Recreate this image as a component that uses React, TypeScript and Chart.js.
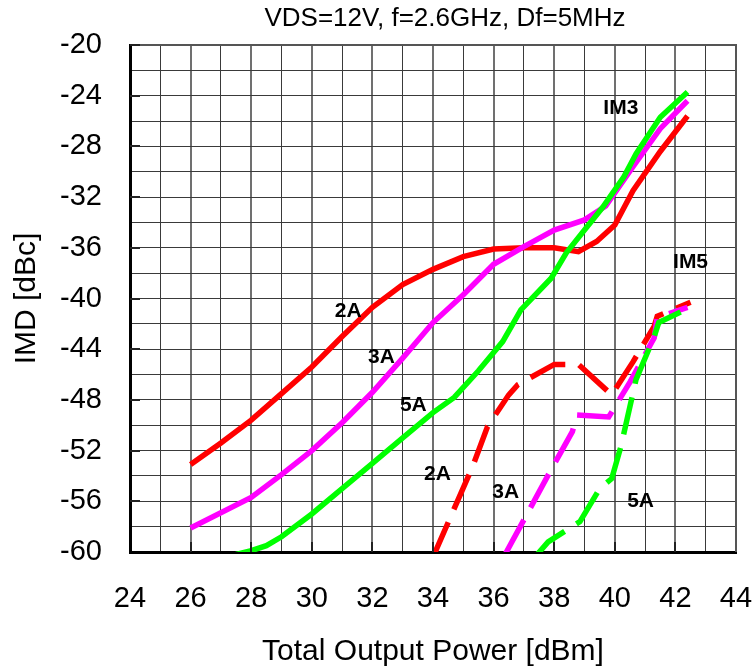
import React, { useEffect, useRef } from "react";
import { Chart, registerables } from "chart.js";

Chart.register(...registerables);

const FONT = "'Liberation Sans', Arial, sans-serif";

const chartTitle = "VDS=12V, f=2.6GHz, Df=5MHz";
const xAxisTitle = "Total Output Power [dBm]";
const yAxisTitle = "IMD [dBc]";

// IM3 (solid)
const red2A_IM3_x = [26, 27, 28, 29, 30, 31, 32, 33, 34, 35, 36, 37, 38, 38.8, 39.4, 40, 40.6, 41.5, 42.4];
const red2A_IM3_y = [-53.1, -51.4, -49.6, -47.5, -45.4, -43.0, -40.7, -38.9, -37.7, -36.7, -36.1, -36.0, -36.0, -36.3, -35.5, -34.2, -31.5, -28.4, -25.6];

const mag3A_IM3_x = [26, 28, 29, 30, 31, 32, 33, 34, 35, 36, 37, 38, 39, 39.7, 40.6, 41.5, 42.4];
const mag3A_IM3_y = [-58.1, -55.7, -53.9, -52.0, -49.8, -47.4, -44.7, -41.9, -39.7, -37.3, -35.9, -34.6, -33.8, -32.7, -29.6, -26.6, -24.4];

const grn5A_IM3_x = [27.5, 28, 28.5, 29, 30, 31, 32, 33, 34, 34.7, 35.5, 36.3, 36.9, 37.9, 38.4, 39.0, 39.6, 40.3, 40.7, 41.5, 42.4];
const grn5A_IM3_y = [-60.2, -59.9, -59.5, -58.8, -57.0, -55.0, -53.0, -51.0, -49.0, -47.8, -45.7, -43.4, -40.9, -38.4, -36.4, -34.6, -32.8, -30.4, -28.6, -25.7, -23.7];

// IM5 (dashed)
const red2A_IM5_x = [34.0, 35.3, 35.8, 36.5, 36.8, 38.0, 38.8, 39.9, 40.6, 41.3, 41.4, 42.5];
const red2A_IM5_y = [-60.4, -53.3, -50.1, -47.6, -46.8, -45.2, -45.2, -47.6, -45.0, -42.2, -41.4, -40.3];

const mag3A_IM5_x = [36.4, 37.9, 38.6, 38.75, 39.8, 40.5, 41.3, 41.4, 42.4];
const mag3A_IM5_y = [-60.1, -53.5, -50.5, -49.2, -49.35, -46.6, -43.1, -41.5, -40.7];

const grn5A_IM5_x = [37.4, 37.8, 38.85, 39.5, 39.9, 40.2, 40.7, 41.3, 41.45, 42.4];
const grn5A_IM5_y = [-60.3, -59.2, -57.6, -55.0, -54.2, -51.7, -46.4, -43.0, -41.9, -40.8];

// annotation labels: text, x (dBm), y (dBc)
const labelTexts = ["IM3", "IM5", "2A", "3A", "5A", "2A", "3A", "5A"];
const labelX = [40.2, 42.5, 31.2, 32.3, 33.35, 34.15, 36.4, 40.85];
const labelY = [-25.0, -37.1, -41.0, -44.6, -48.4, -53.9, -55.3, -56.0];

const X_MIN = 24, X_MAX = 44, Y_MIN = -60, Y_MAX = -20;

const RED = "#FF0000";
const MAGENTA = "#FF00FF";
const GREEN = "#00FF00";

function pts(xs: number[], ys: number[]) {
  return xs.map((x, i) => ({ x, y: ys[i] }));
}

const overlayPlugin = {
  id: "overlay",
  afterDraw(chart: any) {
    const { ctx, chartArea } = chart;
    const xs = chart.scales.x;
    const ys = chart.scales.y;
    const { left, right, top, bottom } = chartArea;
    ctx.save();
    // top and right frame
    ctx.strokeStyle = "#555555";
    ctx.lineWidth = 2;
    ctx.beginPath();
    ctx.moveTo(left, top);
    ctx.lineTo(right, top);
    ctx.lineTo(right, bottom);
    ctx.stroke();
    // inward ticks
    ctx.strokeStyle = "#222222";
    ctx.lineWidth = 2;
    for (let v = X_MIN + 2; v < X_MAX; v += 2) {
      const px = Math.round(xs.getPixelForValue(v));
      ctx.beginPath();
      ctx.moveTo(px, bottom);
      ctx.lineTo(px, bottom - 10);
      ctx.stroke();
    }
    for (let v = Y_MIN + 4; v <= Y_MAX; v += 4) {
      const py = Math.round(ys.getPixelForValue(v));
      ctx.beginPath();
      ctx.moveTo(left, py);
      ctx.lineTo(left + 10, py);
      ctx.stroke();
    }
    // annotations
    ctx.fillStyle = "#000000";
    ctx.font = `bold 21px ${FONT}`;
    ctx.textAlign = "center";
    ctx.textBaseline = "middle";
    labelTexts.forEach((t, i) => {
      ctx.fillText(t, xs.getPixelForValue(labelX[i]), ys.getPixelForValue(labelY[i]));
    });
    // title
    ctx.font = `26px ${FONT}`;
    ctx.fillText(chartTitle, 445, 19);
    // axis titles
    ctx.font = `30px ${FONT}`;
    ctx.fillText(xAxisTitle, (left + right) / 2, 652);
    ctx.translate(27, (top + bottom) / 2);
    ctx.rotate(-Math.PI / 2);
    ctx.fillText(yAxisTitle, 0, 0);
    ctx.restore();
  },
};

export default function App() {
  const ref = useRef<HTMLCanvasElement | null>(null);
  useEffect(() => {
    if (!ref.current) return;
    const solid = (label: string, data: any, color: string, order: number) => ({
      label, data, borderColor: color, backgroundColor: color, borderWidth: 5.5,
      pointRadius: 0, tension: 0, fill: false, order, borderCapStyle: "butt" as const,
      borderJoinStyle: "miter" as const,
    });
    const dashed = (label: string, data: any, color: string, order: number) => ({
      ...solid(label, data, color, order), borderDash: [38, 14],
    });
    const chart = new Chart(ref.current, {
      type: "line",
      data: {
        datasets: [
          solid("IM3 2A", pts(red2A_IM3_x, red2A_IM3_y), RED, 3),
          solid("IM3 3A", pts(mag3A_IM3_x, mag3A_IM3_y), MAGENTA, 2),
          solid("IM3 5A", pts(grn5A_IM3_x, grn5A_IM3_y), GREEN, 1),
          dashed("IM5 2A", pts(red2A_IM5_x, red2A_IM5_y), RED, 3),
          dashed("IM5 3A", pts(mag3A_IM5_x, mag3A_IM5_y), MAGENTA, 2),
          dashed("IM5 5A", pts(grn5A_IM5_x, grn5A_IM5_y), GREEN, 1),
        ],
      },
      options: {
        animation: false,
        responsive: false,
        devicePixelRatio: 1,
        layout: { padding: { top: 45, right: 20, left: 0, bottom: 0 } },
        plugins: { legend: { display: false }, tooltip: { enabled: false }, title: { display: false } },
        scales: {
          x: {
            type: "linear",
            min: X_MIN,
            max: X_MAX,
            afterFit: (s: any) => { s.height = 117; s.paddingLeft = 0; s.paddingRight = 0; },
            ticks: {
              stepSize: 1,
              autoSkip: false,
              maxRotation: 0,
              padding: 30,
              color: "#000",
              font: { family: FONT, size: 29 },
              callback: (v: any) => (Number(v) % 2 === 0 ? String(v) : ""),
            },
            grid: {
              drawTicks: false,
              color: (c: any) => (c.tick && Number(c.tick.value) % 2 === 0 ? "#707070" : "#3a3a3a"),
              lineWidth: (c: any) => (c.tick && Number(c.tick.value) % 2 === 0 ? 2 : 1),
            },
            border: { display: true, color: "#000", width: 3 },
          },
          y: {
            type: "linear",
            min: Y_MIN,
            max: Y_MAX,
            afterFit: (s: any) => { s.width = 130; s.paddingTop = 0; s.paddingBottom = 0; },
            ticks: {
              stepSize: 2,
              autoSkip: false,
              padding: 28,
              color: "#000",
              font: { family: FONT, size: 29 },
              callback: (v: any) => (Number(v) % 4 === 0 ? String(v) : ""),
            },
            grid: { drawTicks: false, color: "#3a3a3a", lineWidth: 1 },
            border: { display: true, color: "#000", width: 3 },
          },
        },
      },
      plugins: [overlayPlugin],
    });
    return () => chart.destroy();
  }, []);
  return (
    <div style={{ position: "fixed", left: 0, top: 0, width: 756, height: 669, background: "#fff" }}>
      <canvas ref={ref} width={756} height={669} style={{ width: 756, height: 669 }} />
    </div>
  );
}
